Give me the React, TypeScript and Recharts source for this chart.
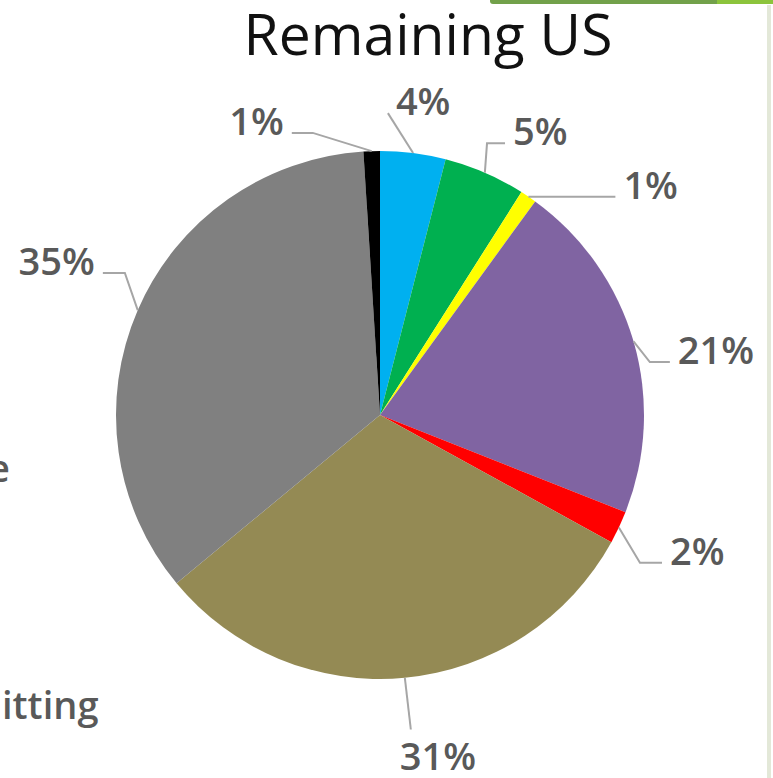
import { PieChart, Pie, Cell } from 'recharts';

const categories = ['Blue', 'Green', 'Yellow', 'Purple', 'Red', 'Olive', 'Gray', 'Black'];
const shares = [4, 5, 1, 21, 2, 31, 35, 1];
const sliceColors = ['#00B0F0', '#00B050', '#FFFF00', '#8064A2', '#FF0000', '#948A54', '#808080', '#000000'];

// where each Excel-style label sits: elbow in polar (deg clockwise from top, px from centre)
const labelLayout = [
  { angle: 1.5, r: 302, arm: 0, place: 'right' },
  { angle: 21.5, r: 292, arm: 18, place: 'right' },
  { angle: 34.2, r: 264, arm: 87, place: 'right' },
  { angle: 78.9, r: 275, arm: 20, place: 'right' },
  { angle: 119.6, r: 299, arm: 22, place: 'right' },
  { angle: 174.4, r: 316, arm: 0, place: 'below' },
  { angle: 299.1, r: 292, arm: -22, place: 'left' },
  { angle: 346.6, r: 290, arm: -21, place: 'left' },
];

const chartData = categories.map((name, i) => ({ name, value: shares[i] }));

const labelFont = "'Open Sans', sans-serif";

const polar = (cx: number, cy: number, r: number, deg: number) => {
  const rad = (deg * Math.PI) / 180;
  return { x: cx + r * Math.sin(rad), y: cy - r * Math.cos(rad) };
};

const renderLabel = (props: any) => {
  const { cx, cy, midAngle, outerRadius, percent, index } = props;
  const layout = labelLayout[index];
  const start = polar(cx, cy, outerRadius, 90 - midAngle);
  const elbow = polar(cx, cy, layout.r, layout.angle);
  const end = { x: elbow.x + layout.arm, y: elbow.y };
  let tx = end.x + 8;
  let ty = end.y + 2;
  let anchor: 'start' | 'end' = 'start';
  if (layout.place === 'left') {
    tx = end.x - 8;
    anchor = 'end';
  } else if (layout.place === 'below') {
    tx = end.x - 11;
    ty = end.y + 41;
  }
  return (
    <g key={`lbl-${index}`}>
      <polyline
        points={`${start.x},${start.y} ${elbow.x},${elbow.y} ${end.x},${end.y}`}
        fill="none"
        stroke="#A6A6A6"
        strokeWidth={2}
      />
      <text x={tx} y={ty} textAnchor={anchor} fill="#595959" fontSize={38} fontWeight={600} fontFamily={labelFont}>
        {`${Math.round(percent * 100)}%`}
      </text>
    </g>
  );
};

export default function App() {
  return (
    <div style={{ position: 'absolute', left: 0, top: 0, width: 773, height: 778, background: '#fff', overflow: 'hidden' }}>
      <div style={{ position: 'absolute', left: 490, top: 0, width: 227, height: 4, background: '#72A14A', borderBottomLeftRadius: 3 }} />
      <div style={{ position: 'absolute', left: 717, top: 0, width: 56, height: 4, background: '#8CC43C' }} />
      <div style={{ position: 'absolute', left: 767, top: 5, width: 4, height: 773, background: '#E3E8D8' }} />
      <PieChart
        width={773}
        height={778}
        margin={{ top: 0, right: 0, bottom: 0, left: 0 }}
        style={{ position: 'absolute', left: 0, top: 0 }}
      >
        <text x={428} y={55} textAnchor="middle" fill="#111" fontSize={57} fontWeight={500} fontFamily={labelFont}>
          Remaining US
        </text>
        <text x={-12} y={482} fill="#595959" fontSize={38} fontWeight={600} fontFamily={labelFont}>e</text>
        <text x={2} y={719} fill="#595959" fontSize={38} fontWeight={600} fontFamily={labelFont}>itting</text>
        <Pie
          data={chartData}
          dataKey="value"
          nameKey="name"
          cx={380}
          cy={415}
          outerRadius={264}
          startAngle={90}
          endAngle={-270}
          stroke="none"
          label={renderLabel}
          labelLine={false}
          isAnimationActive={false}
        >
          {chartData.map((d, i) => (
            <Cell key={d.name} fill={sliceColors[i]} />
          ))}
        </Pie>
      </PieChart>
    </div>
  );
}
